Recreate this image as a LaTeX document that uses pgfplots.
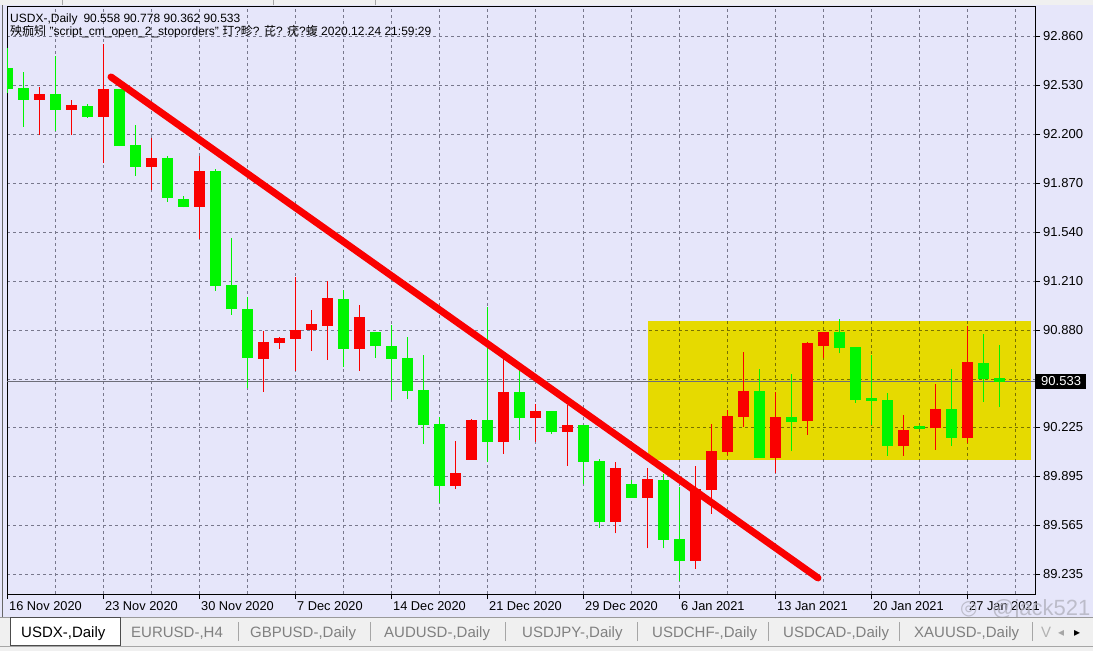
\documentclass[border=0pt]{standalone}
\usepackage{pgfplots}
\pgfplotsset{compat=1.18}
\usepackage{pgfplotstable}
\usepackage{fontspec}
\setmainfont{Liberation Sans}
\newfontfamily\cjk{Noto Sans CJK SC}
\newfontfamily\dejavu{DejaVu Sans}
\definecolor{chartbg}{RGB}{230,230,250}
\definecolor{gridc}{RGB}{120,120,140}
\definecolor{cgreen}{RGB}{0,245,0}
\definecolor{cred}{RGB}{250,0,0}
\definecolor{tabbg}{RGB}{240,240,240}
\definecolor{pline}{RGB}{110,110,120}
\definecolor{wmark}{RGB}{178,178,190}
\pgfdeclarelayer{background}
\pgfsetlayers{background,main}

% x lo hi bodylow bodyhigh
\pgfplotstableread{
x lo hi bo bt
0 92.474 92.780 92.503 92.642
1 92.249 92.620 92.429 92.512
3 92.222 92.725 92.362 92.469
5 92.310 92.402 92.315 92.389
7 92.119 92.503 92.119 92.503
8 91.917 92.261 91.978 92.126
10 91.744 92.052 91.771 92.040
11 91.706 91.783 91.710 91.762
13 91.145 91.962 91.178 91.953
14 90.981 91.498 91.019 91.183
15 90.488 91.104 90.690 91.019
21 90.634 91.150 90.752 91.091
23 90.690 90.869 90.772 90.869
24 90.409 90.914 90.684 90.772
25 90.413 90.831 90.472 90.690
26 90.112 90.712 90.240 90.476
27 89.717 90.297 89.832 90.247
30 89.994 91.037 90.128 90.274
32 90.139 90.611 90.290 90.463
34 90.180 90.335 90.195 90.335
36 89.841 90.240 89.994 90.240
37 89.549 90.010 89.589 89.996
39 89.751 89.870 89.751 89.843
41 89.410 89.910 89.466 89.870
42 89.192 89.825 89.327 89.473
47 90.021 90.615 90.021 90.472
49 90.065 90.582 90.263 90.292
52 90.723 90.952 90.761 90.869
53 90.391 90.768 90.409 90.768
54 90.240 90.712 90.404 90.420
55 90.032 90.454 90.099 90.409
57 90.212 90.240 90.215 90.236
59 90.099 90.615 90.155 90.348
61 90.397 90.853 90.548 90.660
62 90.362 90.778 90.533 90.558
}\greendata

\pgfplotstableread{
x lo hi bo bt
2 92.193 92.519 92.429 92.469
4 92.193 92.429 92.362 92.395
6 92.003 92.806 92.317 92.503
9 91.823 92.171 91.978 92.040
12 91.493 92.052 91.710 91.953
16 90.465 90.873 90.684 90.799
17 90.752 90.835 90.795 90.826
18 90.604 91.239 90.822 90.880
19 90.741 91.015 90.880 90.923
20 90.678 91.210 90.910 91.098
22 90.604 91.049 90.752 90.970
28 89.809 90.133 89.832 89.920
29 90.005 90.281 90.005 90.274
31 90.045 90.690 90.128 90.465
33 90.128 90.380 90.290 90.335
35 89.967 90.375 90.195 90.240
38 89.511 89.989 89.589 89.953
40 89.410 89.949 89.751 89.877
43 89.271 89.963 89.327 89.807
44 89.641 90.247 89.803 90.065
45 90.038 90.342 90.060 90.301
46 90.229 90.734 90.297 90.472
48 89.915 90.465 90.021 90.292
50 90.173 90.801 90.270 90.791
51 90.690 90.869 90.774 90.869
56 90.032 90.308 90.099 90.207
58 90.072 90.517 90.218 90.348
60 90.117 90.907 90.155 90.667
}\reddata

\begin{document}
\begin{tikzpicture}[x=1pt,y=1pt]
\begin{axis}[
  scale only axis, width=1028pt, height=588pt,
  xmin=-0.031, xmax=64.219, ymin=89.102, ymax=93.062,
  axis line style={black, line width=0.9pt},
  xtick={0,6,...,60},
  xticklabels={16 Nov 2020,23 Nov 2020,30 Nov 2020,7 Dec 2020,14 Dec 2020,21 Dec 2020,29 Dec 2020,6 Jan 2021,13 Jan 2021,20 Jan 2021,27 Jan 2021},
  minor xtick={3,9,...,63},
  ytick={92.860,92.530,92.200,91.870,91.540,91.210,90.880,90.550,90.225,89.895,89.565,89.235},
  yticklabels={92.860,92.530,92.200,91.870,91.540,91.210,90.880,,90.225,89.895,89.565,89.235},
  yticklabel pos=right, ytick pos=right, xtick pos=left,
  ymajorgrids, xmajorgrids, xminorgrids,
  major grid style={gridc, dash pattern=on 3pt off 3pt, line width=0.7pt},
  minor grid style={gridc, dash pattern=on 3pt off 3pt, line width=0.7pt},
  tick align=outside, major tick length=5pt, minor tick length=0pt,
  tick style={black, line width=0.8pt},
  xticklabel style={font=\fontsize{12.8}{14}\selectfont, anchor=north west, inner sep=0pt, xshift=1.5pt, yshift=-2pt},
  yticklabel style={font=\fontsize{13}{14}\selectfont, anchor=west, inner sep=0pt, xshift=3pt},
]
% highlighted range (multiply keeps the grid visible)
\addplot[fill=yellow, draw=none, blend mode=multiply] coordinates {(40.05,90.005) (63.95,90.005) (63.95,90.943) (40.05,90.943)} -- cycle;
% current price line
\addplot[pline, line width=0.8pt] coordinates {(-0.031,90.533) (64.219,90.533)};
% wicks
\addplot[cgreen, line width=1pt, quiver={u=0, v=\thisrow{hi}-\thisrow{lo}}] table[x=x, y=lo] {\greendata};
\addplot[cred, line width=1pt, quiver={u=0, v=\thisrow{hi}-\thisrow{lo}}] table[x=x, y=lo] {\reddata};
% bodies
\addplot[cgreen, line width=10.5pt, quiver={u=0, v=\thisrow{bt}-\thisrow{bo}}] table[x=x, y=bo] {\greendata};
\addplot[cred, line width=10.5pt, quiver={u=0, v=\thisrow{bt}-\thisrow{bo}}] table[x=x, y=bo] {\reddata};
% trend line
\addplot[cred, line width=7pt, line cap=round] coordinates {(6.469,92.584) (50.656,89.210)};
\coordinate (pb) at (axis cs:64.219,90.533);
\coordinate (c0) at (rel axis cs:0,0);
\end{axis}

% current price box
\node[anchor=west, fill=black, text=white, inner xsep=5pt, inner ysep=3pt, font=\fontsize{13}{14}\selectfont, xshift=1pt] at (pb) {90.533};

\begin{scope}[shift={(c0)}, xshift=-7pt, yshift=-57pt]
\begin{pgfonlayer}{background}
\fill[chartbg] (0,0) rectangle (1093,651);
\fill[tabbg] (0,645.5) rectangle (1093,651);
\draw[gray!70] (62,645.5) -- (62,651) (273,645.5) -- (273,651) (375,645.5) -- (375,651);
\draw[gray!80!black, line width=0.8pt] (2,34) -- (2,645.5);
\end{pgfonlayer}

% header
\node[anchor=base west, inner sep=0pt, font=\fontsize{12}{14}\selectfont] at (10,628.3) {USDX-,Daily\hspace{6pt}90.558 90.778 90.362 90.533};
\node[anchor=base west, inner sep=0pt, font=\fontsize{12}{14}\selectfont] at (10,615.3) {{\cjk 殃痂矧} "script\_cm\_open\_2\_stoporders" {\cjk 玎}?{\cjk 畛}? {\cjk 芘}? {\cjk 疣}?{\cjk 蝮} 2020.12.24 21:59:29};

% watermark (lies over the last date label, as in the screenshot)
\node[anchor=base west, inner sep=0pt, text=wmark, opacity=0.8, font=\fontsize{22}{24}\selectfont] at (992,36) {@jack521};
\node[anchor=base west, inner sep=0pt, text=wmark, opacity=0.8, font=\dejavu\fontsize{20}{24}\selectfont] at (960,37) {◎};

% tab bar
\fill[tabbg] (0,0) rectangle (1093,34);
\draw[gray!80] (0,34) -- (1093,34);
\draw[gray!70] (0,5) -- (1093,5);
\filldraw[fill=white, draw=gray!60!black] (10,6) rectangle (120,33.5);
\begin{scope}[font=\fontsize{15}{18}\selectfont]
\node[anchor=base west, inner sep=0pt] at (21,14) {USDX-,Daily};
\node[anchor=base west, inner sep=0pt, text=gray] at (131,14) {EURUSD-,H4};
\node[anchor=base west, inner sep=0pt, text=gray] at (250,14) {GBPUSD-,Daily};
\node[anchor=base west, inner sep=0pt, text=gray] at (384,14) {AUDUSD-,Daily};
\node[anchor=base west, inner sep=0pt, text=gray] at (522,14) {USDJPY-,Daily};
\node[anchor=base west, inner sep=0pt, text=gray] at (652,14) {USDCHF-,Daily};
\node[anchor=base west, inner sep=0pt, text=gray] at (783,14) {USDCAD-,Daily};
\node[anchor=base west, inner sep=0pt, text=gray] at (914,14) {XAUUSD-,Daily};
\node[anchor=base west, inner sep=0pt, text=gray!60] at (1041,14) {V};
\end{scope}
\foreach \sx in {238,370,505,637,768,899,1032} \draw[gray!70] (\sx,10) -- (\sx,29);
\node[anchor=base west, inner sep=0pt, text=gray!70, font=\dejavu\fontsize{12}{14}\selectfont] at (1058,15) {◂};
\node[anchor=base west, inner sep=0pt, font=\dejavu\fontsize{12}{14}\selectfont] at (1074,15) {▸};
\pgfresetboundingbox
\path[use as bounding box] (0,0) rectangle (1093,651);
\end{scope}
\end{tikzpicture}
\end{document}
